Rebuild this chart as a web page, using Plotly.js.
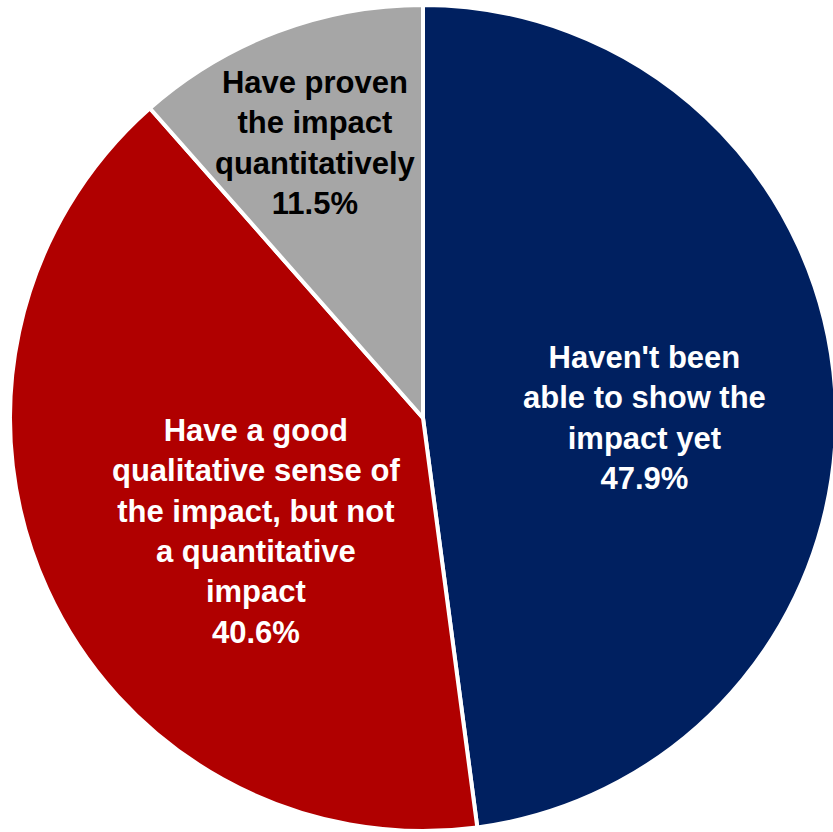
<!DOCTYPE html>
<html><head><meta charset="utf-8">
<script src="https://cdn.plot.ly/plotly-3.0.1.min.js"></script>
<style>html,body{margin:0;padding:0;overflow:hidden;background:#fff;width:833px;height:832px}#c{width:846px;height:832px}</style>
</head><body><div id="c"></div>
<script>
const labels = ["Haven't been<br>able to show the<br>impact yet", "Have a good<br>qualitative sense of<br>the impact, but not<br>a quantitative<br>impact", "Have proven<br>the impact<br>quantitatively"];
const values = [47.9, 40.6, 11.5];
const colors = ["#002060", "#B00000", "#A6A6A6"];
const textColors = ["#ffffff", "#ffffff", "#000000"];
const labelPx = [[644, 418], [256, 531], [315, 143]];

const W = 846, H = 832, mt = 5, mb = 1;
const ann = labels.map((l, i) => ({
  text: l + "<br>" + values[i].toFixed(1) + "%",
  x: labelPx[i][0] / W,
  y: 1 - (labelPx[i][1] - mt) / (H - mt - mb),
  xref: "paper", yref: "paper", showarrow: false,
  xanchor: "center", yanchor: "middle",
  font: {family: "'Liberation Sans', Arial, sans-serif", size: 31, color: textColors[i], weight: "bold"}
}));

Plotly.newPlot("c", [{
  type: "pie", values: values, labels: labels.map(s => s.replace(/<br>/g, " ")),
  sort: false, direction: "clockwise", rotation: 0,
  marker: {colors: colors, line: {color: "#ffffff", width: 4}},
  textinfo: "none", hoverinfo: "none", showlegend: false
}], {
  width: W, height: H, margin: {l: 0, r: 0, t: mt, b: mb},
  paper_bgcolor: "#fff", showlegend: false, annotations: ann
}, {displayModeBar: false, staticPlot: true});
</script></body></html>
